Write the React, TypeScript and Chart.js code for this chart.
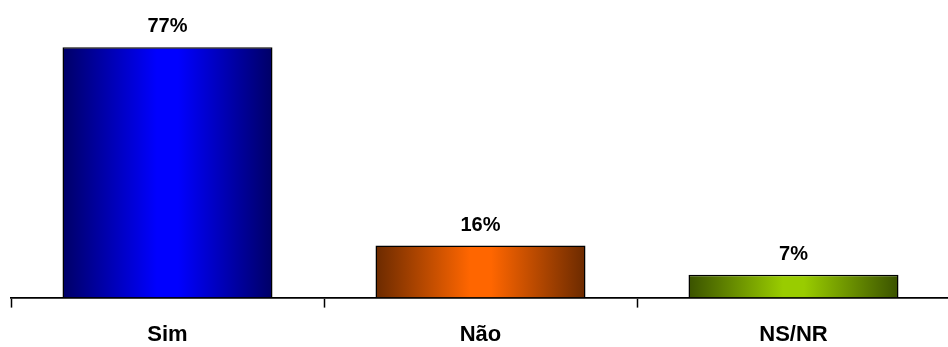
import React, { useEffect, useRef } from "react";
import { Chart, registerables } from "chart.js";

Chart.register(...registerables);

const categories = ["Sim", "Não", "NS/NR"];
const shares = [77, 16, 7];
// [edge, centre] colours of each bar's horizontal shading
const barShades = [
  ["#000066", "#0000ff"],
  ["#6b2a00", "#ff6600"],
  ["#3a5200", "#99cc00"],
];

const FONT = "'Liberation Sans', Arial, sans-serif";

const shadePlugin = {
  id: "barShade",
  beforeDatasetsDraw(chart: any) {
    const ctx = chart.ctx;
    const meta = chart.getDatasetMeta(0);
    meta.data.forEach((bar: any, i: number) => {
      const half = bar.width / 2;
      const g = ctx.createLinearGradient(bar.x - half, 0, bar.x + half, 0);
      const [edge, mid] = barShades[i];
      g.addColorStop(0, edge);
      g.addColorStop(0.45, mid);
      g.addColorStop(0.55, mid);
      g.addColorStop(1, edge);
      bar.options.backgroundColor = g;
    });
  },
};

const valueLabelPlugin = {
  id: "valueLabels",
  afterDatasetsDraw(chart: any) {
    const ctx = chart.ctx;
    const meta = chart.getDatasetMeta(0);
    ctx.save();
    ctx.font = `bold 20px ${FONT}`;
    ctx.fillStyle = "#000";
    ctx.textAlign = "center";
    ctx.textBaseline = "alphabetic";
    meta.data.forEach((bar: any, i: number) => {
      ctx.fillText(`${shares[i]}%`, bar.x, bar.y - 15);
    });
    ctx.restore();
  },
};

export default function App() {
  const canvasRef = useRef<HTMLCanvasElement | null>(null);

  useEffect(() => {
    if (!canvasRef.current) return;
    const chart = new Chart(canvasRef.current, {
      type: "bar",
      data: {
        labels: categories,
        datasets: [
          {
            data: shares,
            backgroundColor: barShades.map((s) => s[1]),
            borderColor: "#000",
            borderWidth: 1.5,
            barPercentage: 0.671,
            categoryPercentage: 1,
          },
        ],
      },
      options: {
        animation: false,
        responsive: false,
        maintainAspectRatio: false,
        layout: { padding: { left: 11, right: 1, top: 5, bottom: 2 } },
        plugins: {
          legend: { display: false },
          tooltip: { enabled: false },
        },
        scales: {
          x: {
            offset: true,
            grid: {
              display: true,
              offset: true,
              drawOnChartArea: false,
              drawTicks: true,
              tickLength: 10,
              tickColor: "#000",
              tickWidth: 1.5,
            },
            border: { display: true, color: "#000", width: 1.8 },
            ticks: {
              color: "#000",
              padding: 14,
              font: { family: FONT, size: 22, weight: "bold" },
            },
          },
          y: {
            display: false,
            min: 0,
            max: 90,
          },
        },
      },
      plugins: [shadePlugin, valueLabelPlugin],
    });
    return () => chart.destroy();
  }, []);

  return (
    <div
      style={{
        position: "fixed",
        left: 0,
        top: 0,
        width: 948,
        height: 347,
        overflow: "hidden",
        background: "#fff",
      }}
    >
      <canvas ref={canvasRef} width={951} height={364} style={{ display: "block" }} />
    </div>
  );
}
